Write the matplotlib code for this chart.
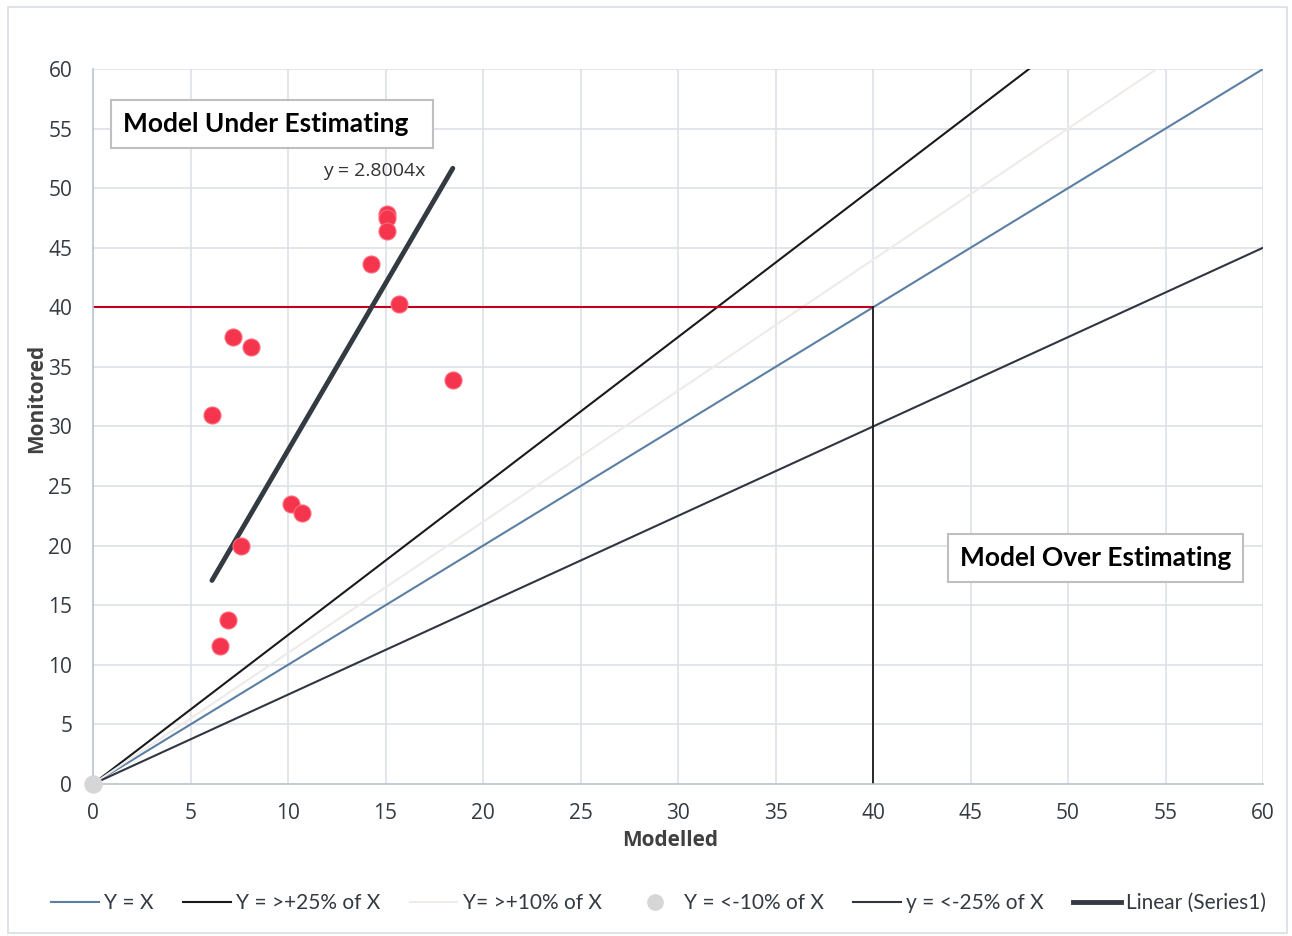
import matplotlib.pyplot as plt
import numpy as np
from matplotlib.lines import Line2D

# ---------------------------------------------------------------------------
# Data
# ---------------------------------------------------------------------------
modelled = [6.1, 7.2, 8.1, 7.6, 6.9, 6.5, 10.15, 10.7, 14.25, 15.1, 15.1, 15.1, 15.7, 18.45]
monitored = [31.0, 37.5, 36.7, 20.0, 13.8, 11.6, 23.5, 22.7, 43.6, 47.8, 47.5, 46.4, 40.3, 33.9]
trend_slope = 2.8004

ref_x = [0, 60]
ratio_lines = {  # label: (slope, colour, width)
    'Y = X': (1.0, '#5b7fa3', 1.5),
    'Y = >+25% of X': (1.25, '#1a1a1a', 1.5),
    'Y= >+10% of X': (1.1, '#eeebe8', 1.5),
    'y = <-25% of X': (0.75, '#2f3640', 1.5),
}
origin_pt = ([0], [0])
threshold = 40

ticks = list(range(0, 61, 5))

TICK_FONT = 'Open Sans'
LEG_FONT = 'Lato'

fig = plt.figure(figsize=(12.92, 9.36), dpi=100)
fig.patches.append(plt.Rectangle((0.006, 0.003), 0.99, 0.99, transform=fig.transFigure,
                                 fill=False, edgecolor='#d9dde2', linewidth=1.2))
ax = fig.add_axes([0.072, 0.1624, 0.9056, 0.7639])

grid_c = '#dde1e7'
for t in ticks[1:]:
    ax.axvline(t, color=grid_c, lw=1.2, zorder=0)
    ax.axhline(t, color=grid_c, lw=1.2, zorder=0)

for lbl, (s, c, w) in ratio_lines.items():
    ax.plot(ref_x, [s * v for v in ref_x], color=c, lw=w, zorder=2)

ax.plot([0, threshold], [threshold, threshold], color='#c00020', lw=1.5, zorder=2)
ax.plot([threshold, threshold], [0, threshold], color='#1a1a1a', lw=1.3, zorder=2)

tx = np.array([min(modelled), max(modelled)])
ax.plot(tx, trend_slope * tx, color='#333a42', lw=3.5, solid_capstyle='round', zorder=3)
ax.text(14.4, 51.4, f'y = {trend_slope}x', fontsize=14,
        family=TICK_FONT, color='#333333', ha='center', va='center')

ax.scatter(modelled, monitored, s=150, color='#f5344d', edgecolor='#ff6a7c',
           linewidth=0.8, zorder=4)
ax.scatter(*origin_pt, s=150, color='#d6d6d6', zorder=4, clip_on=False)

ax.set_xlim(0, 60)
ax.set_ylim(0, 60)
ax.set_xticks(ticks)
ax.set_yticks(ticks)
for sp in ['top', 'right']:
    ax.spines[sp].set_visible(False)
for sp in ['left', 'bottom']:
    ax.spines[sp].set_color('#b8c4d0')
    ax.spines[sp].set_linewidth(1.2)
ax.tick_params(axis='x', length=0, pad=14, labelsize=15, labelcolor='#333a42')
ax.tick_params(axis='y', length=0, pad=15, labelsize=15, labelcolor='#333a42')
for lab in ax.get_xticklabels() + ax.get_yticklabels():
    lab.set_family(TICK_FONT)

ax.set_xlabel('Modelled', fontsize=15, fontweight='bold', family=TICK_FONT,
              color='#404040')
ax.set_ylabel('Monitored', fontsize=15, fontweight='bold', family=TICK_FONT,
              color='#404040')
ax.xaxis.set_label_coords((670 - 93) / 1170, -(830 - 784) / 715)
ax.yaxis.set_label_coords(-(93 - 47) / 1170, (784 - 398) / 715)

box = dict(boxstyle='square,pad=0.45', facecolor='white', edgecolor='#bfbfbf', linewidth=1.5)
ax.text(1.55, 55.4, 'Model Under Estimating  ', fontsize=19, fontweight='bold',
        family='Lato', va='center', ha='left', bbox=box, zorder=5)
ax.text(44.45, 18.95, 'Model Over Estimating', fontsize=19, fontweight='bold',
        family='Lato', va='center', ha='left', bbox=box, zorder=5)

handles = [
    Line2D([], [], color=ratio_lines['Y = X'][1], lw=1.5),
    Line2D([], [], color=ratio_lines['Y = >+25% of X'][1], lw=1.5),
    Line2D([], [], color=ratio_lines['Y= >+10% of X'][1], lw=1.5),
    Line2D([], [], color='#d6d6d6', marker='o', ls='none', ms=11),
    Line2D([], [], color=ratio_lines['y = <-25% of X'][1], lw=1.5),
    Line2D([], [], color='#333a42', lw=3.5),
]
labels = ['Y = X', 'Y = >+25% of X', 'Y= >+10% of X', 'Y = <-10% of X',
          'y = <-25% of X', 'Linear (Series1)']
fig.legend(handles, labels, loc='center', bbox_to_anchor=(0.5097, 0.035), ncol=6,
           frameon=False, handlelength=2.3, handletextpad=0.25, columnspacing=1.4,
           prop={'family': LEG_FONT, 'size': 15}, labelcolor='#333a42')

fig.savefig('out.png', dpi=100)
